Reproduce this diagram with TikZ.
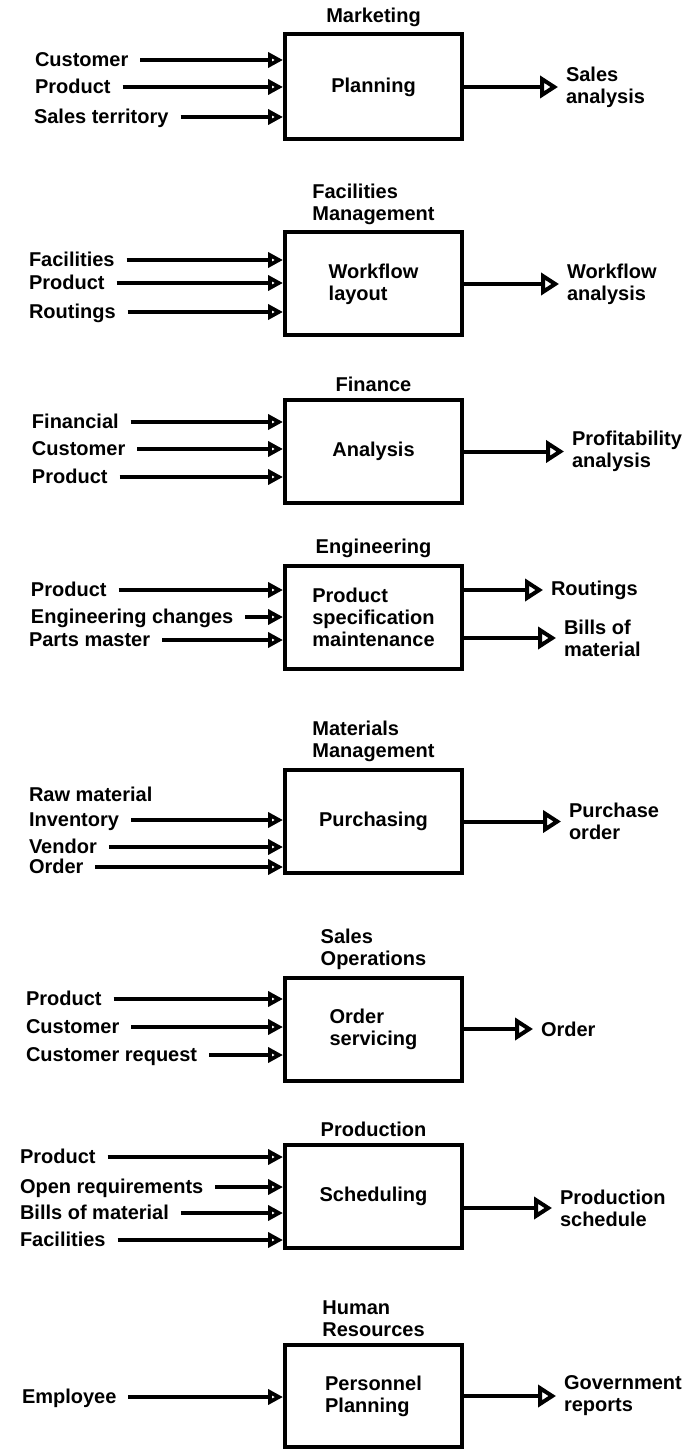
\documentclass[tikz,border=0pt]{standalone}
\usepackage{fontspec}
\setmainfont{Liberation Sans}
\usetikzlibrary{positioning,arrows.meta}

\begin{document}
\begin{tikzpicture}[x=0.5pt ,y=-0.5pt ,
font=\fontsize{10}{11}\selectfont\bfseries ,line width=2pt ,
proc/.style ={draw ,line width=2pt ,minimum width=88.5pt ,
minimum height=51.5pt ,align=left ,inner sep=0pt},
dept/.style ={align=left ,inner sep=1pt},
src/.style ={anchor=west ,inner sep=0pt ,text height=1.5ex ,text depth=0.2ex},
res/.style ={anchor=west ,align=left ,inner sep=0pt},
feed/.style ={-{Triangle[open ,length=7.5pt ,width=7.5pt]} ,shorten <=5pt},
yield/.style ={-{Triangle[open ,length=9pt ,width=11pt]} ,shorten >=3pt}]
\useasboundingbox (0,0) rectangle (694,1449);

\node[proc] (A) at (373.5,87) [minimum height=52.5pt] {Planning};
\node[dept] (At) [above=1pt of A] {Marketing};
\node[src] (A1) at (33,60) {Customer};
\node[src] (A2) at (33,87) {Product};
\node[src] (A3) at (32,117) {Sales territory};
\node[res] (Ao) [right=50pt of A] {Sales\\analysis};
\draw[feed] (A1) -- (A.west |- A1);
\draw[feed] (A2) -- (A.west |- A2);
\draw[feed] (A3) -- (A.west |- A3);
\draw[yield] (A) -- (Ao);

\node[proc] (B) at (373.5,284) {Workflow\\layout};
\node[dept] (Bt) [above=1pt of B] {Facilities\\Management};
\node[src] (B1) at (27,260) {Facilities};
\node[src] (B2) at (27,283) {Product};
\node[src] (B3) at (27,312) {Routings};
\node[res] (Bo) [right=50.5pt of B] {Workflow\\analysis};
\draw[feed] (B1) -- (B.west |- B1);
\draw[feed] (B2) -- (B.west |- B2);
\draw[feed] (B3) -- (B.west |- B3);
\draw[yield] (B) -- (Bo);

\node[proc] (C) at (373.5,451.5) {Analysis};
\node[dept] (Ct) [above=1pt of C] {Finance};
\node[src] (C1) at (30,422) {Financial};
\node[src] (C2) at (30,449) {Customer};
\node[src] (C3) at (30,477) {Product};
\node[res] (Co) [right=53pt of C] {Profitability\\analysis};
\draw[feed] (C1) -- (C.west |- C1);
\draw[feed] (C2) -- (C.west |- C2);
\draw[feed] (C3) -- (C.west |- C3);
\draw[yield] (C) -- (Co);

\node[proc] (D) at (373.5,617.5) {Product\\specification\\maintenance};
\node[dept] (Dt) [above=1pt of D] {Engineering};
\node[src] (D1) at (29,590) {Product};
\node[src] (D2) at (29,617) {Engineering changes};
\node[src] (D3) at (27,640) {Parts master};
\node[res] (Do1) at (549,590) {Routings};
\node[res] (Do2) at (562,638) {Bills of\\material};
\draw[feed] (D1) -- (D.west |- D1);
\draw[feed] (D2) -- (D.west |- D2);
\draw[feed] (D3) -- (D.west |- D3);
\draw[yield] (D.east |- Do1) -- (Do1);
\draw[yield] (D.east |- Do2) -- (Do2);

\node[proc] (E) at (373.5,821.5) {Purchasing};
\node[dept] (Et) [above=1pt of E] {Materials\\Management};
\node[src] (E0) at (27,795) {Raw material};
\node[src] (E1) at (27,820) {Inventory};
\node[src] (E2) at (27,847) {Vendor};
\node[src] (E3) at (27,867) {Order};
\node[res] (Eo) [right=51.5pt of E] {Purchase\\order};
\draw[feed] (E1) -- (E.west |- E1);
\draw[feed] (E2) -- (E.west |- E2);
\draw[feed] (E3) -- (E.west |- E3);
\draw[yield] (E) -- (Eo);

\node[proc] (F) at (373.5,1029) {Order\\servicing};
\node[dept] (Ft) [above=1pt of F] {Sales\\Operations};
\node[src] (F1) at (24,999) {Product};
\node[src] (F2) at (24,1027) {Customer};
\node[src] (F3) at (24,1055) {Customer request};
\node[res] (Fo) [right=37.5pt of F] {Order};
\draw[feed] (F1) -- (F.west |- F1);
\draw[feed] (F2) -- (F.west |- F2);
\draw[feed] (F3) -- (F.west |- F3);
\draw[yield] (F) -- (Fo);

\node[proc] (G) at (373.5,1196.5) {Scheduling};
\node[dept] (Gt) [above=1pt of G] {Production};
\node[src] (G1) at (18,1157) {Product};
\node[src] (G2) at (18,1187) {Open requirements};
\node[src] (G3) at (18,1213) {Bills of material};
\node[src] (G4) at (18,1240) {Facilities};
\node[res] (Go) at (558,1208) {Production\\schedule};
\draw[feed] (G1) -- (G.west |- G1);
\draw[feed] (G2) -- (G.west |- G2);
\draw[feed] (G3) -- (G.west |- G3);
\draw[feed] (G4) -- (G.west |- G4);
\draw[yield] (G.east |- Go) -- (Go);

\node[proc] (H) at (373.5,1396) [minimum height=51pt] {Personnel\\Planning};
\node[dept] (Ht) [above=1pt of H] {Human\\Resources};
\node[src] (H1) at (20,1397) {Employee};
\node[res] (Ho) [right=49pt of H] {Government\\reports};
\draw[feed] (H1) -- (H.west |- H1);
\draw[yield] (H) -- (Ho);
\end{tikzpicture}
\end{document}
